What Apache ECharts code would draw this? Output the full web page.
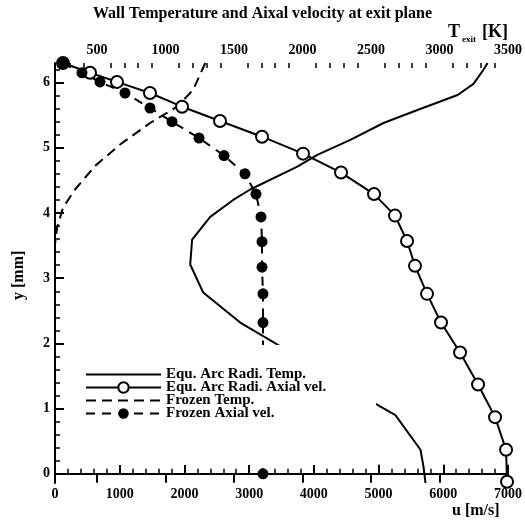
<!DOCTYPE html>
<html>
<head>
<meta charset="utf-8">
<script src="https://cdn.jsdelivr.net/npm/echarts@6/dist/echarts.min.js"></script>
<style>
  html, body { margin: 0; padding: 0; background: #fff; }
  #chart { width: 525px; height: 524px; }
</style>
</head>
<body>
<div id="chart"></div>
<script>
// y positions [mm] and values
const equTempY = [6.30, 6.20, 5.98, 5.81, 5.58, 5.38, 5.12, 4.89, 4.71, 4.36, 4.20, 3.94, 3.59, 3.21, 2.78, 2.32, 2.02, 1.03, 0.90, 0.37, 0.11, -0.14];
const equTempT = [3351, 3322, 3248, 3132, 2839, 2591, 2349, 2108, 1962, 1618, 1494, 1326, 1194, 1180, 1275, 1545, 1787, 2569, 2678, 2861, 2883, 2898];

const equVelY = [6.30, 6.15, 6.01, 5.84, 5.63, 5.41, 5.17, 4.91, 4.62, 4.29, 3.96, 3.57, 3.19, 2.76, 2.32, 1.86, 1.37, 0.87, 0.37, -0.12];
const equVelU = [124, 541, 958, 1468, 1963, 2550, 3199, 3833, 4420, 4930, 5254, 5440, 5563, 5749, 5965, 6259, 6537, 6800, 6970, 6985];

const frozenTempY = [6.30, 5.89, 5.63, 5.38, 5.05, 4.72, 4.36, 4.08, 3.77, 3.40];
const frozenTempT = [1290, 1202, 1085, 887, 668, 485, 339, 251, 208, 185];

const frozenVelY = [6.30, 6.15, 6.01, 5.84, 5.61, 5.40, 5.15, 4.88, 4.60, 4.29, 3.94, 3.56, 3.17, 2.76, 2.32, 0.0];
const frozenVelU = [124, 417, 695, 1082, 1468, 1808, 2225, 2612, 2936, 3106, 3183, 3199, 3199, 3214, 3214, 3214];

const seriesNames = ['Equ. Arc Radi. Temp.', 'Equ. Arc Radi. Axial vel.', 'Frozen Temp.', 'Frozen Axial vel.'];

// tick labels
const tTicks = [500, 1000, 1500, 2000, 2500, 3000, 3500];
const yTicks = [0, 1, 2, 3, 4, 5, 6];

const T_MIN = 193, T_MAX = 3500;
const Y_MIN = -0.14, Y_MAX = 6.3;

// minor tick positions
const tMinor = [];
for (let v = 300; v < T_MAX; v += 100) if (v % 500 !== 0) tMinor.push(v);
const yMinor = [];
for (let i = 1; i < 32; i++) if (i % 5 !== 0) yMinor.push(+(i * 0.2).toFixed(1));

function pairs(xs, ys) { return xs.map((x, i) => [x, ys[i]]); }

const FONT = 'Liberation Serif';
const lbl = { color: '#000', fontFamily: FONT, fontWeight: 'bold', fontSize: 14, formatter: v => String(v) };

let myChart = echarts.init(document.getElementById('chart'));
let option = {
  animation: false,
  backgroundColor: '#fff',
  title: {
    text: 'Wall Temperature and Aixal velocity at exit plane',
    left: 'center',
    top: 1,
    textStyle: { color: '#000', fontFamily: FONT, fontWeight: 'bold', fontSize: 16 }
  },
  grid: { left: 55, right: 17, top: 63, bottom: 41 },
  legend: {
    orient: 'vertical',
    left: 80,
    top: 345,
    padding: [22, 50, 44, 5],
    backgroundColor: '#fff',
    itemWidth: 75,
    itemHeight: 13,
    itemGap: -2,
    data: [
      { name: seriesNames[0], itemStyle: { opacity: 0 } },
      { name: seriesNames[1] },
      { name: seriesNames[2], itemStyle: { opacity: 0 } },
      { name: seriesNames[3] }
    ],
    textStyle: { color: '#000', fontFamily: FONT, fontWeight: 'bold', fontSize: 15, lineHeight: 13 }
  },
  xAxis: [
    {
      type: 'value', position: 'bottom', min: 0, max: 7000, interval: 1000,
      axisLine: { lineStyle: { color: '#000', width: 2 } },
      axisTick: { inside: true, length: 9, lineStyle: { color: '#000', width: 2 } },
      minorTick: { show: true, splitNumber: 5, length: 5, lineStyle: { color: '#000', width: 1.5 } },
      axisLabel: Object.assign({ margin: 4 }, lbl),
      splitLine: { show: false }
    },
    {
      type: 'value', position: 'top', min: T_MIN, max: T_MAX,
      axisLine: { lineStyle: { color: '#000', width: 2 } },
      axisTick: { inside: true, length: 9, customValues: tTicks, lineStyle: { color: '#000', width: 2 } },
      axisLabel: Object.assign({ margin: 6, customValues: tTicks }, lbl),
      splitLine: { show: false }
    },
    {
      type: 'value', position: 'top', min: T_MIN, max: T_MAX,
      axisLine: { show: false },
      axisTick: { inside: true, length: 5, customValues: tMinor, lineStyle: { color: '#000', width: 1.5 } },
      axisLabel: { show: false },
      splitLine: { show: false }
    }
  ],
  yAxis: [
    {
      type: 'value', position: 'left', min: Y_MIN, max: Y_MAX,
      axisLine: { lineStyle: { color: '#000', width: 2 } },
      axisTick: { inside: true, length: 9, customValues: yTicks, lineStyle: { color: '#000', width: 2 } },
      axisLabel: Object.assign({ margin: 5, customValues: yTicks }, lbl),
      splitLine: { show: false }
    },
    {
      type: 'value', position: 'left', min: Y_MIN, max: Y_MAX,
      axisLine: { show: false },
      axisTick: { inside: true, length: 5, customValues: yMinor, lineStyle: { color: '#000', width: 1.5 } },
      axisLabel: { show: false },
      splitLine: { show: false }
    }
  ],
  graphic: [
    { type: 'text', left: 448, top: 23, style: { text: 'T', fill: '#000', font: 'bold 18px "Liberation Serif"' } },
    { type: 'text', left: 462, top: 35, style: { text: 'exit', fill: '#000', font: 'bold 9px "Liberation Serif"' } },
    { type: 'text', left: 482, top: 23, style: { text: '[K]', fill: '#000', font: 'bold 18px "Liberation Serif"' } },
    { type: 'text', left: 452, top: 503, style: { text: 'u [m/s]', fill: '#000', font: 'bold 16px "Liberation Serif"' } },
    { type: 'text', x: 11, y: 300, rotation: Math.PI / 2,
      style: { text: 'y [mm]', fill: '#000', font: 'bold 16px "Liberation Serif"' } }
  ],
  series: [
    {
      name: seriesNames[0], type: 'line', xAxisIndex: 1, yAxisIndex: 0,
      data: pairs(equTempT, equTempY),
      symbol: 'none', color: '#000',
      lineStyle: { color: '#000', width: 2 }
    },
    {
      name: seriesNames[1], type: 'line', xAxisIndex: 0, yAxisIndex: 0,
      data: pairs(equVelU, equVelY),
      symbol: 'circle', symbolSize: 12, color: '#000',
      itemStyle: { color: '#fff', borderColor: '#000', borderWidth: 2 },
      lineStyle: { color: '#000', width: 2 }
    },
    {
      name: seriesNames[2], type: 'line', xAxisIndex: 1, yAxisIndex: 0,
      data: pairs(frozenTempT, frozenTempY),
      symbol: 'none', color: '#000',
      lineStyle: { color: '#000', width: 2, type: [10, 6] }
    },
    {
      name: seriesNames[3], type: 'line', xAxisIndex: 0, yAxisIndex: 0,
      data: pairs(frozenVelU, frozenVelY),
      symbol: 'circle', symbolSize: 11, color: '#000',
      itemStyle: { color: '#000' },
      lineStyle: { color: '#000', width: 2, type: [9, 7] }
    }
  ]
};
myChart.setOption(option);
</script>
</body>
</html>
